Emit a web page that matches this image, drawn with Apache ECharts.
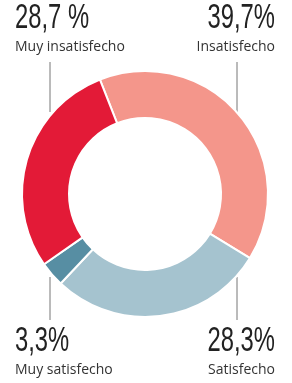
<!DOCTYPE html>
<html>
<head>
<meta charset="utf-8">
<script src="https://cdn.jsdelivr.net/npm/echarts@6/dist/echarts.min.js"></script>
<style>
  html, body { margin: 0; padding: 0; background: #fff; }
  #chart { width: 292px; height: 383px; }
</style>
</head>
<body>
<div id="chart"></div>
<script>
// data, clockwise from the top
const categories = ['Insatisfecho', 'Satisfecho', 'Muy satisfecho', 'Muy insatisfecho'];
const values = [39.7, 28.3, 3.3, 28.7];
const valueLabels = ['39,7%', '28,3%', '3,3%', '28,7 %'];
const colors = ['#f4968b', '#a5c3cf', '#578ea3', '#e31a37'];

// where each label sits: [x, align, top of number, leader line y1, y2]
const labelPos = [
    [275, 'right', 1, 62, 112],
    [275, 'right', 324, 277, 320],
    [15, 'left', 324, 277, 320],
    [15, 'left', 1, 62, 112]
];
const lineX = [237, 237, 50, 50];

const chart = echarts.init(document.getElementById('chart'));

const graphics = [];
categories.forEach(function (name, i) {
    const p = labelPos[i];
    // the numbers are set in a tall condensed face, so squeeze a normal one
    graphics.push({
        type: 'text',
        x: p[0], y: p[2],
        scaleX: 0.68,
        style: {
            text: valueLabels[i],
            font: '35px "Liberation Sans", sans-serif',
            fill: '#222',
            align: p[1],
            verticalAlign: 'top'
        }
    });
    graphics.push({
        type: 'text',
        x: p[0], y: p[2] + 39,
        style: {
            text: name,
            font: '14px "Open Sans", sans-serif',
            fill: '#333',
            align: p[1],
            verticalAlign: 'top'
        }
    });
    graphics.push({
        type: 'line',
        shape: { x1: lineX[i], y1: p[3], x2: lineX[i], y2: p[4] },
        style: { stroke: '#777', lineWidth: 1 }
    });
});

chart.setOption({
    animation: false,
    graphic: graphics,
    series: [{
        type: 'pie',
        center: [145, 194],
        radius: [76, 123],
        startAngle: 111.5,
        clockwise: true,
        silent: true,
        label: { show: false },
        labelLine: { show: false },
        itemStyle: { borderColor: '#fff', borderWidth: 2 },
        data: categories.map(function (name, i) {
            return { name: name, value: values[i], itemStyle: { color: colors[i] } };
        })
    }]
});
</script>
</body>
</html>
